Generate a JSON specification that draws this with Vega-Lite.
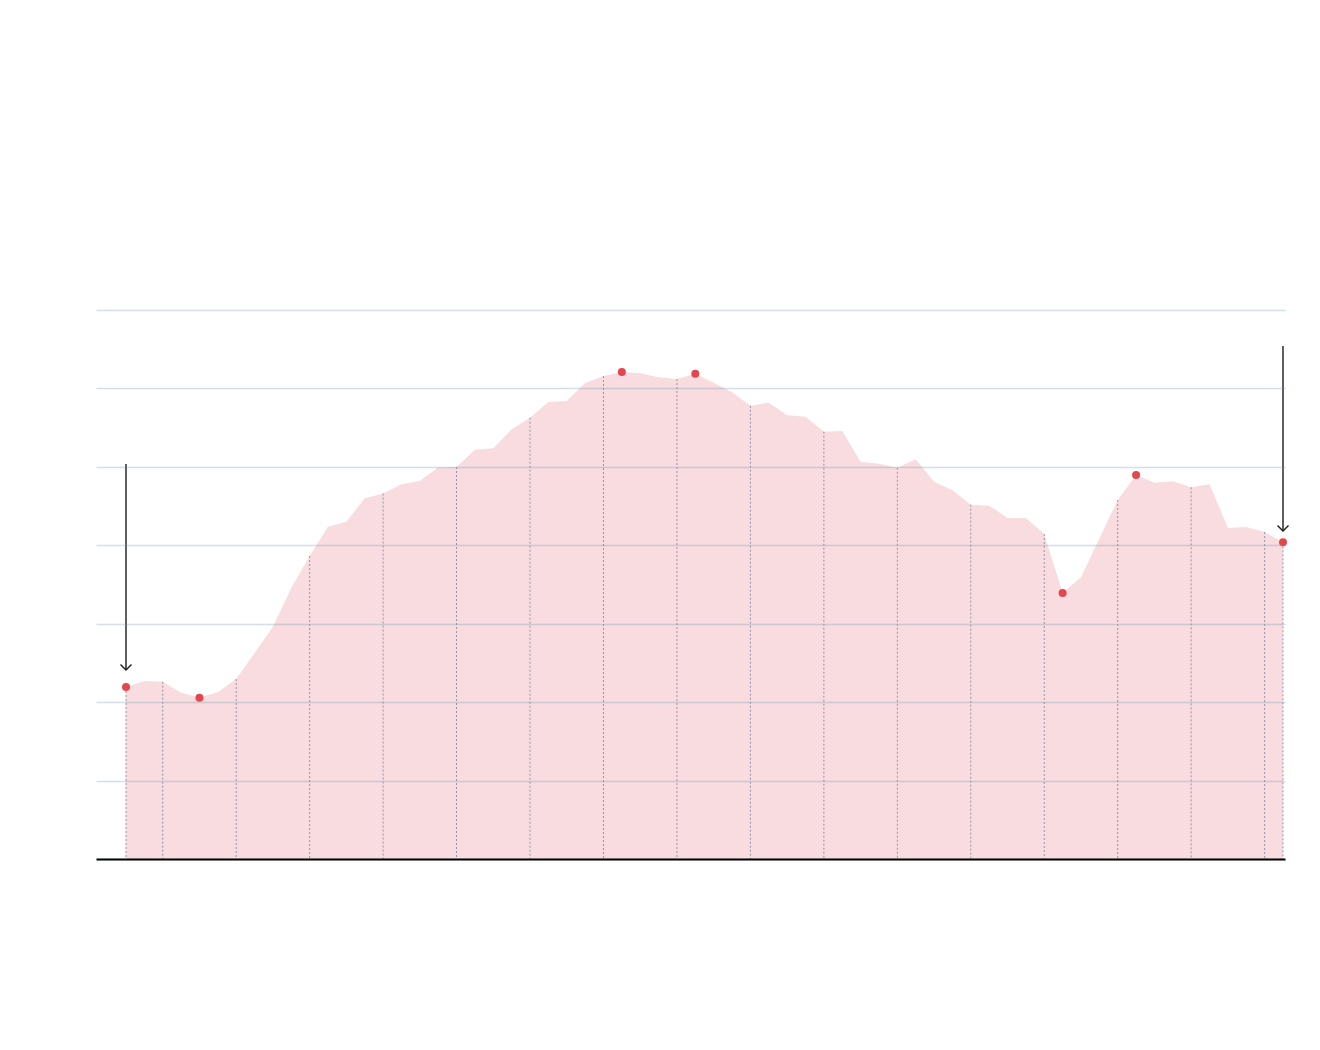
{
  "$schema": "https://vega.github.io/schema/vega-lite/v6.json",
  "autosize": "none",
  "width": 1189,
  "height": 549,
  "padding": {"left": 96, "top": 310, "right": 35, "bottom": 191},
  "background": "#ffffff",
  "config": {"view": {"stroke": null}},
  "datasets": {
    "series": [
      {"t":0,"v":21.93,"q":3,"hl":true},
      {"t":1,"v":22.70,"q":4,"hl":false},
      {"t":2,"v":22.61,"q":1,"hl":false},
      {"t":3,"v":21.20,"q":2,"hl":false},
      {"t":4,"v":20.57,"q":3,"hl":true},
      {"t":5,"v":21.25,"q":4,"hl":false},
      {"t":6,"v":22.95,"q":1,"hl":false},
      {"t":7,"v":26.27,"q":2,"hl":false},
      {"t":8,"v":29.62,"q":3,"hl":false},
      {"t":9,"v":34.55,"q":4,"hl":false},
      {"t":10,"v":38.63,"q":1,"hl":false},
      {"t":11,"v":42.37,"q":2,"hl":false},
      {"t":12,"v":43.01,"q":3,"hl":false},
      {"t":13,"v":45.99,"q":4,"hl":false},
      {"t":14,"v":46.60,"q":1,"hl":false},
      {"t":15,"v":47.77,"q":2,"hl":false},
      {"t":16,"v":48.20,"q":3,"hl":false},
      {"t":17,"v":49.94,"q":4,"hl":false},
      {"t":18,"v":49.98,"q":1,"hl":false},
      {"t":19,"v":52.19,"q":2,"hl":false},
      {"t":20,"v":52.37,"q":3,"hl":false},
      {"t":21,"v":54.79,"q":4,"hl":false},
      {"t":22,"v":56.27,"q":1,"hl":false},
      {"t":23,"v":58.27,"q":2,"hl":false},
      {"t":24,"v":58.40,"q":3,"hl":false},
      {"t":25,"v":60.69,"q":4,"hl":false},
      {"t":26,"v":61.58,"q":1,"hl":false},
      {"t":27,"v":62.09,"q":2,"hl":true},
      {"t":28,"v":61.93,"q":3,"hl":false},
      {"t":29,"v":61.42,"q":4,"hl":false},
      {"t":30,"v":61.20,"q":1,"hl":false},
      {"t":31,"v":61.88,"q":2,"hl":true},
      {"t":32,"v":60.73,"q":3,"hl":false},
      {"t":33,"v":59.51,"q":4,"hl":false},
      {"t":34,"v":57.80,"q":1,"hl":false},
      {"t":35,"v":58.18,"q":2,"hl":false},
      {"t":36,"v":56.57,"q":3,"hl":false},
      {"t":37,"v":56.39,"q":4,"hl":false},
      {"t":38,"v":54.48,"q":1,"hl":false},
      {"t":39,"v":54.57,"q":2,"hl":false},
      {"t":40,"v":50.66,"q":3,"hl":false},
      {"t":41,"v":50.40,"q":4,"hl":false},
      {"t":42,"v":49.89,"q":1,"hl":false},
      {"t":43,"v":50.96,"q":2,"hl":false},
      {"t":44,"v":48.11,"q":3,"hl":false},
      {"t":45,"v":47.01,"q":4,"hl":false},
      {"t":46,"v":45.17,"q":1,"hl":false},
      {"t":47,"v":45.05,"q":2,"hl":false},
      {"t":48,"v":43.48,"q":3,"hl":false},
      {"t":49,"v":43.48,"q":4,"hl":false},
      {"t":50,"v":41.44,"q":1,"hl":false},
      {"t":51,"v":33.92,"q":2,"hl":true},
      {"t":52,"v":35.93,"q":3,"hl":false},
      {"t":53,"v":40.86,"q":4,"hl":false},
      {"t":54,"v":45.77,"q":1,"hl":false},
      {"t":55,"v":48.96,"q":2,"hl":true},
      {"t":56,"v":47.98,"q":3,"hl":false},
      {"t":57,"v":48.16,"q":4,"hl":false},
      {"t":58,"v":47.39,"q":1,"hl":false},
      {"t":59,"v":47.77,"q":2,"hl":false},
      {"t":60,"v":42.20,"q":3,"hl":false},
      {"t":61,"v":42.33,"q":4,"hl":false},
      {"t":62,"v":41.69,"q":1,"hl":false},
      {"t":63,"v":40.38,"q":2,"hl":true}
    ],
    "arrows": [
      {"t":0,"from":50.36,"to":24.10},
      {"t":63,"from":65.41,"to":41.82}
    ]
  },
  "layer": [
    {
      "data": {"name": "series"},
      "mark": {"type": "area", "color": "#f8dcdf", "interpolate": "linear"},
      "encoding": {
        "x": {
          "field": "t", "type": "quantitative",
          "scale": {"domain": [-1.6335, 63.109], "nice": false, "zero": false},
          "axis": {"grid": false, "labels": false, "ticks": false, "title": null, "domain": true, "domainColor": "#000000", "domainWidth": 2, "zindex": 1}
        },
        "y": {
          "field": "v", "type": "quantitative",
          "scale": {"domain": [0, 70], "nice": false},
          "axis": {"grid": true, "values": [0,10,20,30,40,50,60,70], "labels": false, "ticks": false, "domain": false, "title": null, "gridColor": "#6f98ab", "gridOpacity": 0.3, "gridWidth": 1.5, "zindex": 1}
        }
      }
    },
    {
      "data": {"name": "series"},
      "transform": [{"filter": "datum.q == 1 || datum.t == 0 || datum.t == 63"}],
      "mark": {"type": "rule", "color": "#8e97a8", "strokeWidth": 1, "strokeDash": [2, 2]},
      "encoding": {
        "x": {"field": "t", "type": "quantitative"},
        "y": {"field": "v", "type": "quantitative"},
        "y2": {"datum": 0}
      }
    },
    {
      "data": {"name": "arrows"},
      "mark": {"type": "rule", "color": "#1a1a1a", "strokeWidth": 1.4},
      "encoding": {
        "x": {"field": "t", "type": "quantitative"},
        "y": {"field": "from", "type": "quantitative"},
        "y2": {"field": "to"}
      }
    },
    {
      "data": {"name": "arrows"},
      "mark": {"type": "point", "shape": "M-1,-1L0,0L1,-1", "filled": false, "stroke": "#1a1a1a", "strokeWidth": 1.4, "size": 121, "opacity": 1},
      "encoding": {
        "x": {"field": "t", "type": "quantitative"},
        "y": {"field": "to", "type": "quantitative"}
      }
    },
    {
      "data": {"name": "series"},
      "transform": [{"filter": "datum.hl"}],
      "mark": {"type": "circle", "color": "#e2474f", "size": 64, "opacity": 1},
      "encoding": {
        "x": {"field": "t", "type": "quantitative"},
        "y": {"field": "v", "type": "quantitative"}
      }
    }
  ]
}
